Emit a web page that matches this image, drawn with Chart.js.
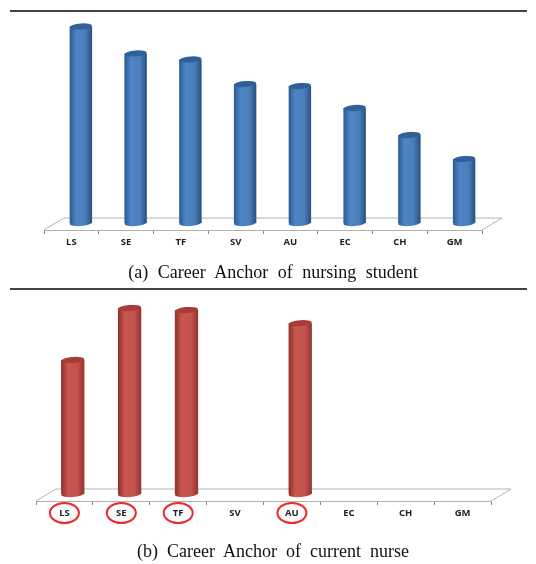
<!DOCTYPE html>
<html>
<head>
<meta charset="utf-8">
<script src="https://cdn.jsdelivr.net/npm/chart.js@4"></script>
<style>
  html, body { margin: 0; padding: 0; background: #fff; }
  #page { position: relative; width: 536px; height: 564px; overflow: hidden; filter: blur(0.45px); }
  canvas { position: absolute; left: 0; }
  .rule { position: absolute; left: 10px; width: 517px; height: 2px; background: #444; }
  .caption { position: absolute; left: 5px; width: 536px; text-align: center; color: #111;
    font: 18px "Liberation Serif", serif; word-spacing: 5px; white-space: pre; }
</style>
</head>
<body>
<div id="page">
  <div class="rule" style="top:10px"></div>
  <canvas id="studentChart" width="536" height="260" style="top:0"></canvas>
  <div class="caption" style="top:262px">(a) Career Anchor of nursing student</div>
  <div class="rule" style="top:288px"></div>
  <canvas id="nurseChart" width="536" height="242" style="top:289px"></canvas>
  <div class="caption" style="top:541px;word-spacing:4.5px">(b) Career Anchor of current nurse</div>
</div>
<script>
const categories = ["LS", "SE", "TF", "SV", "AU", "EC", "CH", "GM"]
const studentValues = [95.9, 82.7, 79.8, 67.8, 66.8, 56.1, 42.9, 31.2]
const nurseValues = [66.7, 92.5, 91.5, null, 85, null, null, null]
const nurseCircled = ["LS", "SE", "TF", "AU"]

const blueStops = ["#2b5a92", "#4f85c6", "#4a7dbb", "#28507f"]
const redStops = ["#8e2f2d", "#c9574f", "#c4524e", "#93322f"]

// fake 3D: floor plate, shifted bars with elliptical caps, red rings on labels
const cylinderPlugin = {
  id: "cylinder",
  beforeDatasetsDraw(chart, args, opts) {
    const { left, right, bottom } = chart.chartArea
    const c = chart.ctx
    c.save()
    c.strokeStyle = "#b4b4b4"
    c.lineWidth = 1
    c.beginPath()
    c.moveTo(left, bottom)
    c.lineTo(left + opts.depthX, bottom - opts.depthY)
    c.lineTo(right + opts.depthX, bottom - opts.depthY)
    c.lineTo(right, bottom)
    c.stroke()
    c.restore()
  },
  beforeDatasetDraw(chart, args, opts) {
    chart.ctx.save()
    chart.ctx.translate(opts.shiftX, -opts.shiftY)
  },
  afterDatasetDraw(chart, args, opts) {
    const c = chart.ctx
    args.meta.data.forEach((bar, i) => {
      if (chart.data.datasets[0].data[i] == null) return
      const rx = bar.width / 2
      // rounded bottom
      c.fillStyle = bar.options.backgroundColor
      c.beginPath()
      c.ellipse(bar.x, bar.base, rx, 3, -0.08, 0, Math.PI * 2)
      c.fill()
      // top cap
      c.fillStyle = opts.capColor
      c.beginPath()
      c.ellipse(bar.x, bar.y, rx, 3, -0.08, 0, Math.PI * 2)
      c.fill()
    })
    c.restore()
  },
  afterDraw(chart, args, opts) {
    const c = chart.ctx
    const x = chart.scales.x
    c.save()
    c.strokeStyle = "#ee2a2a"
    c.lineWidth = 2
    ;(opts.circled || []).forEach(label => {
      const px = x.getPixelForValue(categories.indexOf(label))
      c.beginPath()
      c.ellipse(px, chart.chartArea.bottom + 12, 14.5, 10, 0, 0, Math.PI * 2)
      c.stroke()
    })
    c.restore()
  },
}

function makeChart(id, values, stops, capColor, pad, plugOpts) {
  new Chart(document.getElementById(id), {
    type: "bar",
    data: {
      labels: categories,
      datasets: [
        {
          data: values,
          barPercentage: 0.41,
          categoryPercentage: 1,
          clip: false,
          backgroundColor(ctx) {
            const x = ctx.chart.scales.x
            if (!x || ctx.dataIndex === undefined) return stops[1]
            const cx = x.getPixelForValue(ctx.dataIndex)
            const w = (x.width / categories.length) * 0.41
            if (!isFinite(cx) || !isFinite(w)) return stops[1]
            const g = ctx.chart.ctx.createLinearGradient(cx - w / 2, 0, cx + w / 2, 0)
            g.addColorStop(0, stops[0])
            g.addColorStop(0.3, stops[1])
            g.addColorStop(0.7, stops[2])
            g.addColorStop(1, stops[3])
            return g
          },
        },
      ],
    },
    options: {
      responsive: false,
      animation: false,
      layout: { padding: pad },
      plugins: {
        legend: { display: false },
        tooltip: { enabled: false },
        cylinder: Object.assign({ capColor }, plugOpts),
      },
      scales: {
        x: {
          afterFit(s) { s.height = 30 },
          border: { color: "#b0b0b0" },
          grid: { drawOnChartArea: false, tickLength: 4, color: "#888" },
          ticks: {
            autoSkip: false,
            maxRotation: 0,
            padding: 3,
            color: "#222",
            font: { family: "Open Sans", size: 9.5, weight: "bold" },
          },
        },
        y: { display: false, min: 0, max: 100 },
      },
    },
    plugins: [cylinderPlugin],
  })
}

makeChart("studentChart", studentValues, blueStops, "#2f6198",
  { left: 44, right: 54, top: 25, bottom: 0 },
  { depthX: 20, depthY: 12, shiftX: 9.5, shiftY: 7 })

makeChart("nurseChart", nurseValues, redStops, "#a83c39",
  { left: 36, right: 45, top: 11, bottom: 0 },
  { depthX: 20, depthY: 12, shiftX: 8.3, shiftY: 7, circled: nurseCircled })
</script>
</body>
</html>
